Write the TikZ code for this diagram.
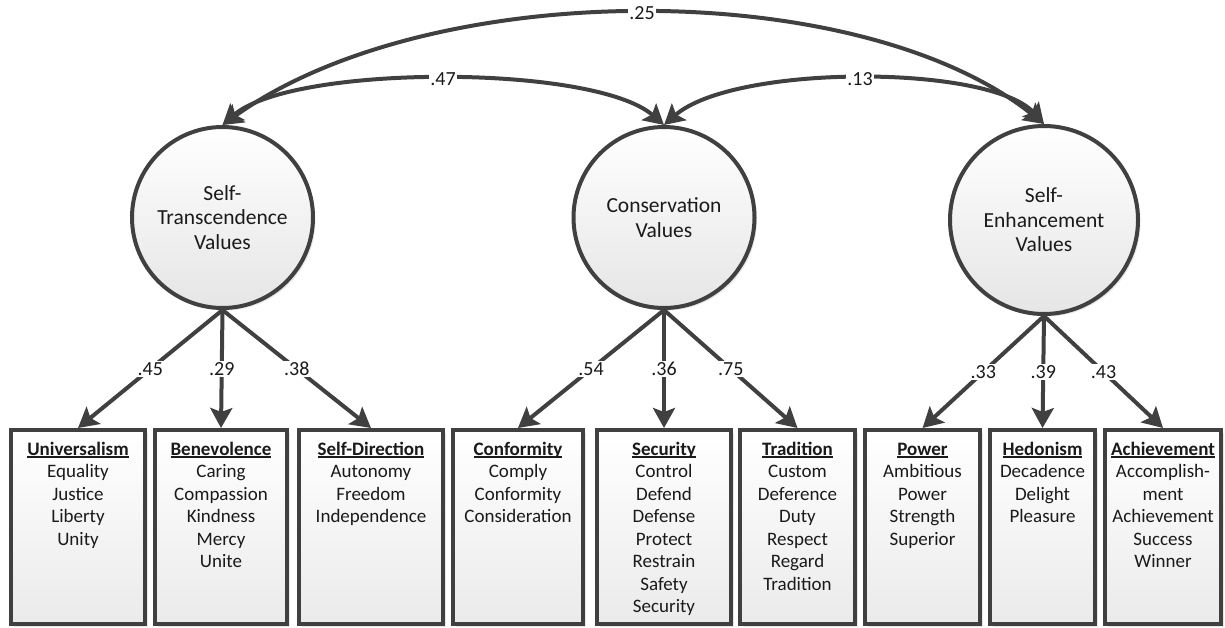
\documentclass[tikz,border=0pt]{standalone}
\usepackage{fontspec}
\setmainfont{Carlito}
\usetikzlibrary{arrows.meta,shadows}
\definecolor{ln}{HTML}{404040}
\definecolor{tx}{HTML}{1A1A1A}
\newcommand\hdr[1]{\setbox0\hbox{\bfseries #1}\rlap{\rule[-2.6pt]{\wd0}{1.4pt}}\box0}
\newcommand\boxtext[2]{\begin{minipage}[t][194pt][t]{#1}\centering\fontsize{19}{22.5}\selectfont\rule{0pt}{25pt}#2\end{minipage}}
\tikzset{
  lat/.style={circle, draw=ln, line width=4pt, top color=white, bottom color=black!10,
    inner sep=0pt, align=center, text=tx, font=\fontsize{21.5}{24.5}\selectfont,
    drop shadow={opacity=0.18, shadow xshift=2.5pt, shadow yshift=-2.5pt}},
  itembox/.style={rectangle, draw=ln, line width=4pt, top color=white, bottom color=black!8,
    inner sep=0pt, anchor=north, text=tx,
    drop shadow={opacity=0.18, shadow xshift=2.5pt, shadow yshift=-2.5pt}},
  arr/.style={draw=ln, line width=4pt, -{Stealth[length=20pt,width=22pt,inset=4pt]}},
  darr/.style={draw=ln, line width=4pt, {Stealth[length=20pt,width=22pt,inset=4pt]}-{Stealth[length=20pt,width=22pt,inset=4pt]}},
  lbl/.style={fill=white, inner sep=1.5pt, text=tx, font=\fontsize{20}{22}\selectfont},
}
\begin{document}
\begin{tikzpicture}[x=1pt,y=-1pt]
\useasboundingbox (0,0) rectangle (1225,627);

% latent variables
\node[lat, minimum size=181pt] (st) at (222.5,217.5) {Self-\\Transcendence\\Values};
\node[lat, minimum size=181pt] (cons) at (664,217.5) {Conservation\\Values};
\node[lat, minimum size=188pt] (se) at (1044,220) {Self-\\Enhancement\\Values};

% indicator boxes
\node[itembox] (univ) at (78,428) {\boxtext{134pt}{\hdr{Universalism}\\Equality\\Justice\\Liberty\\Unity}};
\node[itembox] (benev) at (221,428) {\boxtext{132pt}{\hdr{Benevolence}\\Caring\\Compassion\\Kindness\\Mercy\\Unite}};
\node[itembox] (sdir) at (371,428) {\boxtext{144pt}{\hdr{Self-Direction}\\Autonomy\\Freedom\\Independence}};
\node[itembox] (conf) at (518,428) {\boxtext{130pt}{\hdr{Conformity}\\Comply\\Conformity\\Consideration}};
\node[itembox] (sec) at (664,428) {\boxtext{134pt}{\hdr{Security}\\Control\\Defend\\Defense\\Protect\\Restrain\\Safety\\Security}};
\node[itembox] (trad) at (797.5,428) {\boxtext{115pt}{\hdr{Tradition}\\Custom\\Deference\\Duty\\Respect\\Regard\\Tradition}};
\node[itembox] (pow) at (922.5,428) {\boxtext{115pt}{\hdr{Power}\\Ambitious\\Power\\Strength\\Superior}};
\node[itembox] (hed) at (1042.5,428) {\boxtext{105pt}{\hdr{Hedonism}\\Decadence\\Delight\\Pleasure}};
\node[itembox] (ach) at (1163,428) {\boxtext{116pt}{\hdr{Achievement}\\Accomplish-\\ment\\Achievement\\Success\\Winner}};

% correlations
\draw[darr] (st.north) .. controls (430,-24) and (860,-24) .. node[lbl] {.25} (se.north);
\draw[darr] (st.north) .. controls (292,64) and (594,64) .. node[lbl] {.47} (cons.north);
\draw[darr] (cons.north) .. controls (734,64) and (990,64) .. node[lbl] {.13} (se.north);

% loadings
\draw[arr] (st.south) -- node[lbl] {.45} (univ.north);
\draw[arr] (st.south) -- node[lbl] {.29} (benev.north);
\draw[arr] (st.south) -- node[lbl] {.38} (sdir.north);
\draw[arr] (cons.south) -- node[lbl] {.54} (conf.north);
\draw[arr] (cons.south) -- node[lbl] {.36} (sec.north);
\draw[arr] (cons.south) -- node[lbl] {.75} (trad.north);
\draw[arr] (se.south) -- node[lbl] {.33} (pow.north);
\draw[arr] (se.south) -- node[lbl] {.39} (hed.north);
\draw[arr] (se.south) -- node[lbl] {.43} (ach.north);
\end{tikzpicture}
\end{document}
